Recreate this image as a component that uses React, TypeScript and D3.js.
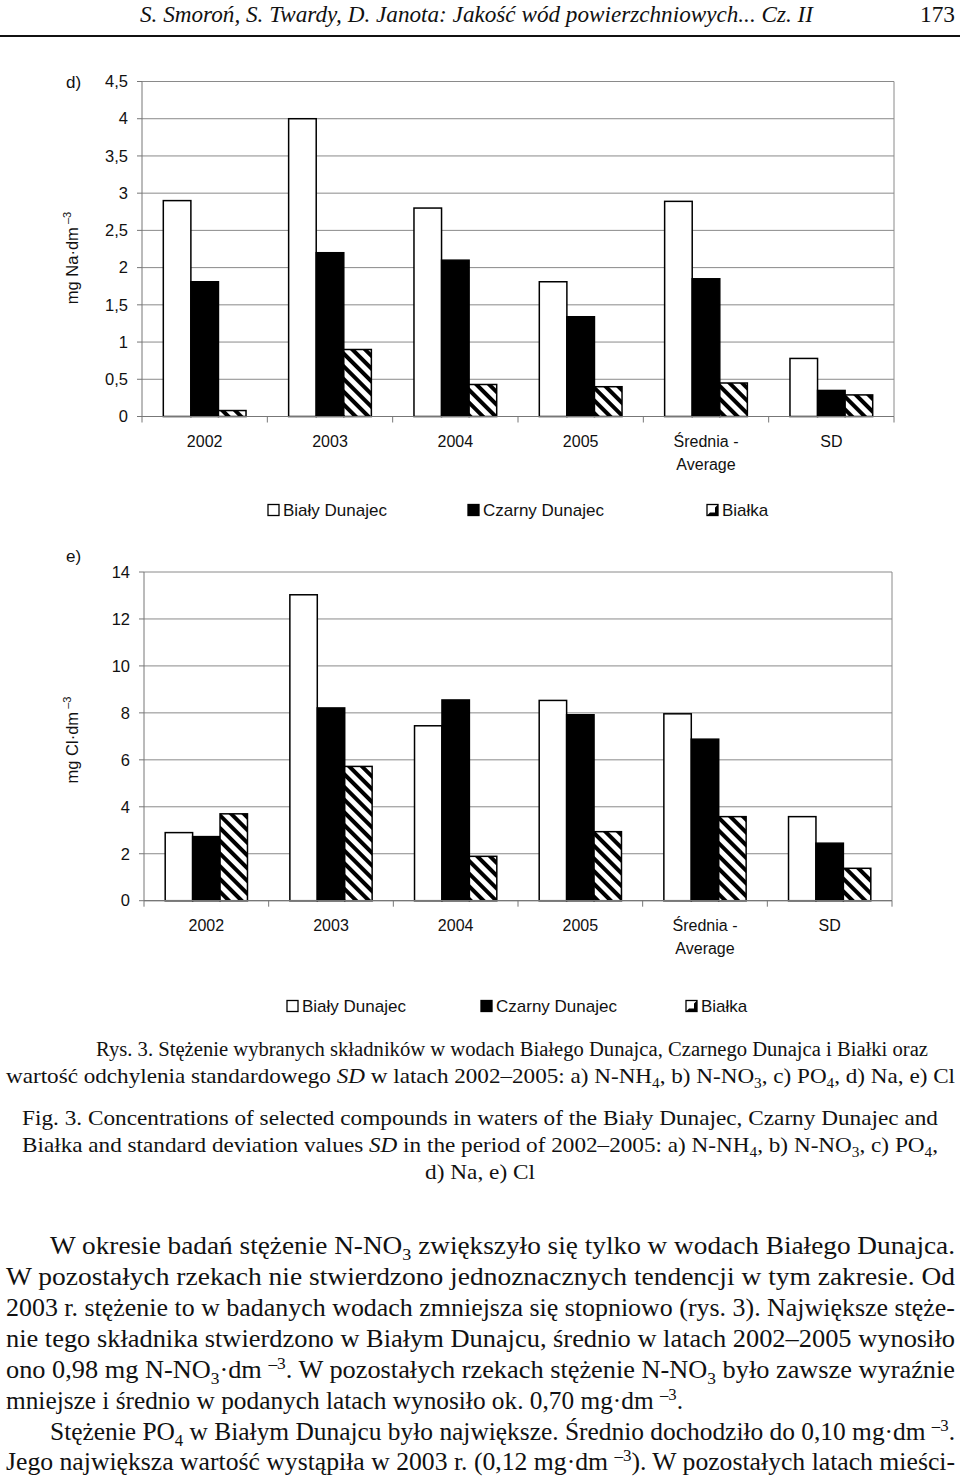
import React from "react";
import * as d3 from "d3";

// ---------- DATA ----------
const categories = ["2002", "2003", "2004", "2005", "Średnia -|Average", "SD"];
const seriesNames = ["Biały Dunajec", "Czarny Dunajec", "Białka"];

const naBialy = [2.9, 4.0, 2.8, 1.81, 2.89, 0.78];
const naCzarny = [1.81, 2.2, 2.1, 1.34, 1.85, 0.35];
const naBialka = [0.08, 0.9, 0.43, 0.4, 0.45, 0.29];
const naTicks = [0, 0.5, 1, 1.5, 2, 2.5, 3, 3.5, 4, 4.5];

const clBialy = [2.9, 13.03, 7.45, 8.53, 7.96, 3.58];
const clCzarny = [2.73, 8.21, 8.55, 7.92, 6.88, 2.45];
const clBialka = [3.7, 5.72, 1.89, 2.94, 3.58, 1.38];
const clTicks = [0, 2, 4, 6, 8, 10, 12, 14];

type Seg = { t: string; sub?: boolean; sup?: boolean; it?: boolean };

const headerText = "S. Smoroń, S. Twardy, D. Janota: Jakość wód powierzchniowych... Cz. II";
const pageNumber = "173";

const captionLines: Seg[][] = [
  [{ t: "Rys. 3. Stężenie wybranych składników w wodach Białego Dunajca, Czarnego Dunajca i Białki oraz" }],
  [
    { t: "wartość odchylenia standardowego " }, { t: "SD", it: true },
    { t: " w latach 2002–2005: a) N-NH" }, { t: "4", sub: true }, { t: ", b) N-NO" }, { t: "3", sub: true },
    { t: ", c) PO" }, { t: "4", sub: true }, { t: ", d) Na, e) Cl" },
  ],
  [{ t: "Fig. 3. Concentrations of selected compounds in waters of the Biały Dunajec, Czarny Dunajec and" }],
  [
    { t: "Białka and standard deviation values " }, { t: "SD", it: true },
    { t: " in the period of 2002–2005: a) N-NH" }, { t: "4", sub: true }, { t: ", b) N-NO" }, { t: "3", sub: true },
    { t: ", c) PO" }, { t: "4", sub: true }, { t: "," },
  ],
  [{ t: "d) Na, e) Cl" }],
];

const bodyLines: Seg[][] = [
  [{ t: "W okresie badań stężenie N-NO" }, { t: "3", sub: true }, { t: " zwiększyło się tylko w wodach Białego Dunajca." }],
  [{ t: "W pozostałych rzekach nie stwierdzono jednoznacznych tendencji w tym zakresie. Od" }],
  [{ t: "2003 r. stężenie to w badanych wodach zmniejsza się stopniowo (rys. 3). Największe stęże-" }],
  [{ t: "nie tego składnika stwierdzono w Białym Dunajcu, średnio w latach 2002–2005 wynosiło" }],
  [
    { t: "ono 0,98 mg N-NO" }, { t: "3", sub: true }, { t: "·dm " }, { t: "–3", sup: true },
    { t: ". W pozostałych rzekach stężenie N-NO" }, { t: "3", sub: true }, { t: " było zawsze wyraźnie" },
  ],
  [{ t: "mniejsze i średnio w podanych latach wynosiło ok. 0,70 mg·dm " }, { t: "–3", sup: true }, { t: "." }],
  [{ t: "Stężenie PO" }, { t: "4", sub: true }, { t: " w Białym Dunajcu było największe. Średnio dochodziło do 0,10 mg·dm " }, { t: "–3", sup: true }, { t: "." }],
  [{ t: "Jego największa wartość wystąpiła w 2003 r. (0,12 mg·dm " }, { t: "–3", sup: true }, { t: "). W pozostałych latach mieści-" }],
];

// ---------- layout (not data) ----------
const SANS = "'Liberation Sans', Arial, sans-serif";
const SERIF = "'Liberation Serif', 'Times New Roman', serif";
const GRID = "#8a8a8a";

function RichText({ segs, x, y, len, size }: { segs: Seg[]; x: number; y: number; len: number; size: number }) {
  const out: React.ReactNode[] = [];
  let shift = 0;
  segs.forEach((s, i) => {
    const target = s.sub ? size * 0.25 : s.sup ? -size * 0.38 : 0;
    const dy = target - shift;
    shift = target;
    out.push(
      <tspan key={i} dy={dy} fontSize={s.sub || s.sup ? size * 0.66 : size} fontStyle={s.it ? "italic" : "normal"}>
        {s.t}
      </tspan>
    );
  });
  return (
    <text x={x} y={y} textLength={len} lengthAdjust="spacingAndGlyphs" fontFamily={SERIF} fontSize={size} fill="#111">
      {out}
    </text>
  );
}

type ChartProps = {
  id: string;
  series: number[][];
  ticks: number[];
  left: number;
  right: number;
  top: number;
  bottom: number;
  letter: string;
  letterY: number;
  title: string;
  titleY: number;
  labelY: number;
  legendY: number;
  legendX: number[];
};

function BarChart(p: ChartProps) {
  const yMax = p.ticks[p.ticks.length - 1];
  const y = d3.scaleLinear().domain([0, yMax]).range([p.bottom, p.top]);
  const x0 = d3.scaleBand<string>().domain(categories).range([p.left, p.right]).padding(0);
  const bw = x0.bandwidth();
  const x1 = d3.scaleBand<string>().domain(seriesNames).range([bw * 0.17, bw * 0.83]).padding(0);
  const fills = ["#fff", "#000", `url(#hatch-${p.id})`];
  const fmt = (v: number) => String(v).replace(".", ",");

  return (
    <g>
      <defs>
        <pattern id={`hatch-${p.id}`} patternUnits="userSpaceOnUse" width={9} height={9} patternTransform="rotate(-45)">
          <rect width={9} height={9} fill="#fff" />
          <rect width={4} height={9} fill="#000" />
        </pattern>
      </defs>
      {p.ticks.map((t) => (
        <line key={t} x1={p.left} x2={p.right} y1={y(t)} y2={y(t)} stroke={GRID} strokeWidth={1} />
      ))}
      <line x1={p.right} x2={p.right} y1={p.top} y2={p.bottom} stroke={GRID} strokeWidth={1} />
      {categories.map((c, ci) =>
        seriesNames.map((s, si) => {
          const v = p.series[si][ci];
          return (
            <rect
              key={c + s}
              x={(x0(c) as number) + (x1(s) as number)}
              y={y(v)}
              width={x1.bandwidth()}
              height={p.bottom - y(v)}
              fill={fills[si]}
              stroke="#000"
              strokeWidth={1.5}
            />
          );
        })
      )}
      <line x1={p.left} x2={p.left} y1={p.top} y2={p.bottom} stroke="#777" strokeWidth={1} />
      <line x1={p.left} x2={p.right} y1={p.bottom} y2={p.bottom} stroke="#777" strokeWidth={1.2} />
      {p.ticks.map((t) => (
        <g key={"yt" + t}>
          <line x1={p.left - 5} x2={p.left} y1={y(t)} y2={y(t)} stroke="#777" />
          <text x={p.left - 14} y={y(t)} dy="0.35em" textAnchor="end" fontFamily={SANS} fontSize={16.5} fill="#111">
            {fmt(t)}
          </text>
        </g>
      ))}
      {categories.map((c, i) => (
        <line key={"xt" + i} x1={x0(c) as number} x2={x0(c) as number} y1={p.bottom} y2={p.bottom + 6} stroke="#777" />
      ))}
      <line x1={p.right} x2={p.right} y1={p.bottom} y2={p.bottom + 6} stroke="#777" />
      {categories.map((c) => {
        const parts = c.split("|");
        const cx = (x0(c) as number) + bw / 2;
        return parts.map((pt, k) => (
          <text key={c + k} x={cx} y={p.labelY + k * 23} textAnchor="middle" fontFamily={SANS} fontSize={16} fill="#111">
            {pt}
          </text>
        ));
      })}
      <text x={66} y={p.letterY} dy="0.35em" fontFamily={SANS} fontSize={17} fill="#111">
        {p.letter}
      </text>
      <text transform={`translate(78, ${p.titleY}) rotate(-90)`} textAnchor="middle" fontFamily={SANS} fontSize={16.5} fill="#111">
        {p.title}
        <tspan dy={-7} fontSize={11}>
          {" –3"}
        </tspan>
      </text>
      {seriesNames.map((s, i) => {
        const lx = p.legendX[i];
        const ly = p.legendY;
        return (
          <g key={"lg" + s}>
            <rect x={lx} y={ly - 5.5} width={11} height={11} fill={i === 1 ? "#000" : "#fff"} stroke="#000" strokeWidth={1.3} />
            {i === 2 && (
              <polygon
                points={`${lx + 11},${ly - 5.5} ${lx + 11},${ly + 5.5} ${lx},${ly + 5.5} ${lx + 3},${ly + 2.5} ${lx + 8},${ly + 2.5} ${lx + 8},${ly - 2.5}`}
                fill="#000"
              />
            )}
            <text x={lx + 15} y={ly} dy="0.35em" fontFamily={SANS} fontSize={17} fill="#111">
              {s}
            </text>
          </g>
        );
      })}
    </g>
  );
}

export default function App() {
  const W = 960;
  const H = 1480;
  return (
    <svg
      width={W}
      height={H}
      viewBox={`0 0 ${W} ${H}`}
      style={{ position: "absolute", left: 0, top: 0, background: "#fff", display: "block" }}
    >
      <rect width={W} height={H} fill="#fff" />
      <text x={140} y={22} textLength={673} lengthAdjust="spacingAndGlyphs" fontFamily={SERIF} fontStyle="italic" fontSize={24} fill="#111">
        {headerText}
      </text>
      <text x={955} y={22} textAnchor="end" textLength={35} lengthAdjust="spacingAndGlyphs" fontFamily={SERIF} fontSize={24} fill="#111">
        {pageNumber}
      </text>
      <line x1={0} x2={W} y1={36} y2={36} stroke="#111" strokeWidth={2} />

      <BarChart
        id="na"
        series={[naBialy, naCzarny, naBialka]}
        ticks={naTicks}
        left={142}
        right={894}
        top={81.5}
        bottom={416.5}
        letter="d)"
        letterY={82}
        title="mg Na·dm"
        titleY={258}
        labelY={447}
        legendY={510}
        legendX={[268, 468, 707]}
      />
      <BarChart
        id="cl"
        series={[clBialy, clCzarny, clBialka]}
        ticks={clTicks}
        left={144}
        right={892}
        top={572}
        bottom={900.7}
        letter="e)"
        letterY={556}
        title="mg Cl·dm"
        titleY={740}
        labelY={931}
        legendY={1006}
        legendX={[287, 481, 686]}
      />

      <RichText segs={captionLines[0]} x={96} y={1056} len={832} size={20} />
      <RichText segs={captionLines[1]} x={6} y={1083} len={949} size={21} />
      <RichText segs={captionLines[2]} x={22} y={1125} len={916} size={21} />
      <RichText segs={captionLines[3]} x={22} y={1152} len={916} size={21} />
      <RichText segs={captionLines[4]} x={425} y={1179} len={110} size={21} />

      <RichText segs={bodyLines[0]} x={50} y={1254} len={905} size={25} />
      <RichText segs={bodyLines[1]} x={6} y={1285} len={949} size={25} />
      <RichText segs={bodyLines[2]} x={6} y={1316} len={949} size={25} />
      <RichText segs={bodyLines[3]} x={6} y={1347} len={949} size={25} />
      <RichText segs={bodyLines[4]} x={6} y={1378} len={949} size={25} />
      <RichText segs={bodyLines[5]} x={6} y={1409} len={677} size={25} />
      <RichText segs={bodyLines[6]} x={50} y={1440} len={905} size={25} />
      <RichText segs={bodyLines[7]} x={6} y={1470} len={949} size={25} />
    </svg>
  );
}
